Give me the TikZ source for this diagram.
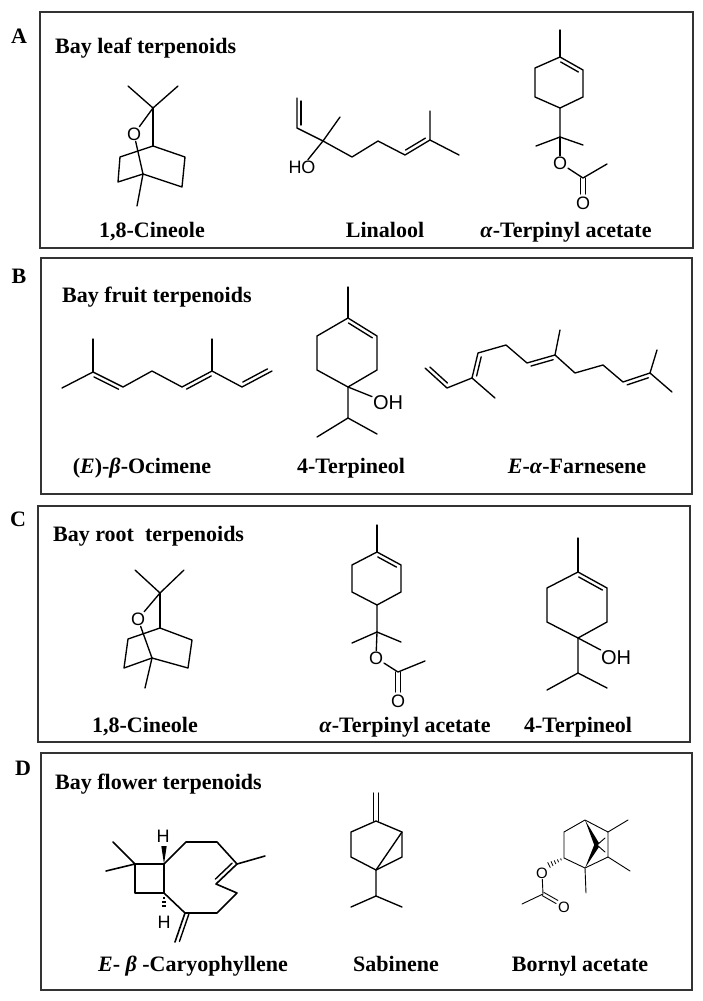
\documentclass[tikz,border=0pt]{standalone}
\usepackage{fontspec}
\setmainfont{Liberation Serif}
\newfontfamily\arialf{Liberation Sans}
\usetikzlibrary{calc}
\newcommand{\dbond}[4]{\draw[bond,shorten >=3pt,shorten <=3pt] ($(#1)!4pt!#3:(#2)$) -- ($(#2)!4pt!#4:(#1)$);}
\newcommand{\sbond}[2]{\draw[bond] ($(#1)!2.2pt!90:(#2)$) -- ($(#2)!2.2pt!-90:(#1)$); \draw[bond] ($(#1)!2.2pt!-90:(#2)$) -- ($(#2)!2.2pt!90:(#1)$);}
\tikzset{
  panel/.style={draw=black!80, line width=1.6pt},
  bond/.style={line width=1.35pt, line cap=round, line join=round},
  thinbond/.style={line width=0.9pt, line cap=round, line join=round},
  atom/.style={font=\arialf\fontsize{18}{18}\selectfont, inner sep=0.8pt},
  bigatom/.style={font=\arialf\fontsize{20}{20}\selectfont, inner sep=0.8pt},
  smallatom/.style={font=\arialf\fontsize{15}{15}\selectfont, inner sep=0.8pt},
  title/.style={font=\bfseries\fontsize{22}{24}\selectfont, anchor=base west, inner sep=0},
  lbl/.style={font=\bfseries\fontsize{22}{24}\selectfont, anchor=base, inner sep=0},
  plet/.style={font=\bfseries\fontsize{22}{24}\selectfont, inner sep=0},
}
\begin{document}
\begin{tikzpicture}[x=1pt,y=-1pt]
\fill[white] (0,0) rectangle (702,1001);
\useasboundingbox (0,0) rectangle (702,1001);

% ---------- panels ----------
\draw[panel] (40,12) rectangle (693,248);
\draw[panel] (41,258) rectangle (692,494);
\draw[panel] (38,506) rectangle (690,742);
\draw[panel] (41,753) rectangle (692,990);

\node[plet] (pA) at (19,36) {A};
\node[plet] (pB) at (19,276) {B};
\node[plet] (pC) at (18,519) {C};
\node[plet] (pD) at (23,768) {D};

\node[title] (tA) at (55,53) {Bay leaf terpenoids};
\node[title] (tB) at (62,302) {Bay fruit terpenoids};
\node[title] (tC) at (53,541) {Bay root\ \ terpenoids};
\node[title] (tD) at (55,789) {Bay flower terpenoids};

% ---------- labels ----------
\node[lbl] (lA1) at (152,237) {1,8-Cineole};
\node[lbl] (lA2) at (385,237) {Linalool};
\node[lbl] (lA3) at (566,237) {\textit{α}-Terpinyl acetate};
\node[lbl] (lB1) at (142,473) {(\textit{E})-\textit{β}-Ocimene};
\node[lbl] (lB2) at (351,473) {4-Terpineol};
\node[lbl] (lB3) at (577,473) {\textit{E}-\textit{α}-Farnesene};
\node[lbl] (lC1) at (145,732) {1,8-Cineole};
\node[lbl] (lC2) at (405,732) {\textit{α}-Terpinyl acetate};
\node[lbl] (lC3) at (578,732) {4-Terpineol};
\node[lbl] (lD1) at (193,971) {\textit{E}- \textit{β} -Caryophyllene};
\node[lbl] (lD2) at (396,971) {Sabinene};
\node[lbl] (lD3) at (580,971) {Bornyl acetate};

% ---------- A: 1,8-Cineole ----------
\coordinate (a1m1) at (128,86);
\coordinate (a1m2) at (178,86);
\coordinate (a1c8) at (153,108);
\node[atom] (a1o) at (134,134) {O};
\coordinate (a1c1) at (153,146);
\coordinate (a1l1) at (120,157);
\coordinate (a1l2) at (118,182);
\coordinate (a1c4) at (143,174);
\coordinate (a1r1) at (185,157);
\coordinate (a1r2) at (182,187);
\coordinate (a1m3) at (137,206);
\draw[bond] (a1m1) -- (a1c8) -- (a1m2);
\draw[bond] (a1c8) -- (a1o);
\draw[bond] (a1c8) -- (a1c1);
\draw[bond] (a1c1) -- (a1l1) -- (a1l2) -- (a1c4);
\draw[bond] (a1c1) -- (a1r1) -- (a1r2) -- (a1c4);
\draw[bond] (a1o) -- (a1c4) -- (a1m3);

% ---------- A: Linalool ----------
\coordinate (l1) at (297,98);
\coordinate (l2) at (297,128);
\coordinate (l3) at (323,141);
\coordinate (lme) at (340,117);
\node[atom] (lho) at (302,167) {HO};
\coordinate (l4) at (352,157);
\coordinate (l5) at (378,141);
\coordinate (l6) at (405,155);
\coordinate (l7) at (430,140);
\coordinate (lme2) at (430,111);
\coordinate (lme3) at (459,155);
\draw[bond] (l1) -- (l2) -- (l3) -- (lme);
\dbond{l1}{l2}{90}{-90}
\draw[bond] (l3) -- (lho);
\draw[bond] (l3) -- (l4) -- (l5) -- (l6) -- (l7) -- (lme2);
\draw[bond] (l7) -- (lme3);
\dbond{l6}{l7}{90}{-90}

% ---------- A: alpha-Terpinyl acetate ----------
\coordinate (t1m) at (560,30);
\coordinate (t1c1) at (560,57);
\coordinate (t1c2) at (583,70);
\coordinate (t1c3) at (583,97);
\coordinate (t1c4) at (560,108);
\coordinate (t1c5) at (535,97);
\coordinate (t1c6) at (535,68);
\coordinate (t1c8) at (560,137);
\coordinate (t1ma) at (536,146);
\coordinate (t1mb) at (583,145);
\node[atom] (t1o) at (560,163) {O};
\coordinate (t1cc) at (583,178);
\coordinate (t1mc) at (607,164);
\coordinate (t1ob) at (583,194);
\node[atom] (t1o2) at (583,203) {O};
\draw[bond] (t1m) -- (t1c1);
\draw[bond] (t1c1) -- (t1c2) -- (t1c3) -- (t1c4) -- (t1c5) -- (t1c6) -- cycle;
\dbond{t1c1}{t1c2}{-90}{90}
\draw[bond] (t1c4) -- (t1c8) -- (t1ma);
\draw[bond] (t1c8) -- (t1mb);
\draw[bond] (t1c8) -- (t1o);
\draw[bond] (t1o) -- (t1cc) -- (t1mc);
\sbond{t1cc}{t1ob}

% ---------- B: (E)-beta-Ocimene ----------
\coordinate (o1) at (62,388);
\coordinate (o2) at (93,372);
\coordinate (o2m) at (93,339);
\coordinate (o3) at (123,387);
\coordinate (o4) at (152,371);
\coordinate (o5) at (182,387);
\coordinate (o6) at (212,371);
\coordinate (o6m) at (212,339);
\coordinate (o7) at (242,387);
\coordinate (o8) at (272,371);
\draw[bond] (o1) -- (o2) -- (o3) -- (o4) -- (o5) -- (o6) -- (o7) -- (o8);
\draw[bond] (o2) -- (o2m);
\draw[bond] (o6) -- (o6m);
\dbond{o2}{o3}{-90}{90}
\dbond{o5}{o6}{-90}{90}
\dbond{o7}{o8}{90}{-90}

% ---------- B: 4-Terpineol ----------
\coordinate (p1m) at (348,287);
\coordinate (p1) at (348,318);
\coordinate (p2) at (377,336);
\coordinate (p3) at (377,370);
\coordinate (p4) at (348,387);
\coordinate (p5) at (317,370);
\coordinate (p6) at (317,336);
\node[bigatom] (poh) at (388,403) {OH};
\coordinate (p7) at (348,418);
\coordinate (p7a) at (317,437);
\coordinate (p7b) at (377,434);
\draw[bond] (p1m) -- (p1);
\draw[bond] (p1) -- (p2) -- (p3) -- (p4) -- (p5) -- (p6) -- cycle;
\dbond{p1}{p2}{-90}{90}
\draw[bond] (p4) -- (poh);
\draw[bond] (p4) -- (p7) -- (p7a);
\draw[bond] (p7) -- (p7b);

% ---------- B: E-alpha-Farnesene ----------
\coordinate (f1) at (425,368);
\coordinate (f2) at (447,388);
\coordinate (f3) at (472,378);
\coordinate (f3m) at (495,398);
\coordinate (f4) at (478,353);
\coordinate (f5) at (506,345);
\coordinate (f6) at (527,363);
\coordinate (f7) at (555,355);
\coordinate (f7m) at (560,330);
\coordinate (f8) at (575,373);
\coordinate (f9) at (603,365);
\coordinate (f10) at (623,382);
\coordinate (f11) at (650,373);
\coordinate (f11m) at (657,350);
\coordinate (f11n) at (672,392);
\draw[bond] (f1) -- (f2) -- (f3) -- (f4) -- (f5) -- (f6) -- (f7) -- (f8) -- (f9) -- (f10) -- (f11) -- (f11n);
\draw[bond] (f3) -- (f3m);
\draw[bond] (f7) -- (f7m);
\draw[bond] (f11) -- (f11m);
\dbond{f1}{f2}{90}{-90}
\dbond{f3}{f4}{-90}{90}
\dbond{f6}{f7}{-90}{90}
\dbond{f10}{f11}{-90}{90}

% ---------- C: 1,8-Cineole ----------
\coordinate (c1m1) at (135,570);
\coordinate (c1m2) at (184,570);
\coordinate (c1c8) at (160,593);
\node[atom] (c1o) at (138,619) {O};
\coordinate (c1c1) at (160,628);
\coordinate (c1r1) at (192,640);
\coordinate (c1r2) at (188,668);
\coordinate (c1c4) at (152,658);
\coordinate (c1l1) at (128,639);
\coordinate (c1l2) at (124,668);
\coordinate (c1m3) at (145,688);
\draw[bond] (c1m1) -- (c1c8) -- (c1m2);
\draw[bond] (c1c8) -- (c1o);
\draw[bond] (c1c8) -- (c1c1);
\draw[bond] (c1c1) -- (c1l1) -- (c1l2) -- (c1c4);
\draw[bond] (c1c1) -- (c1r1) -- (c1r2) -- (c1c4);
\draw[bond] (c1o) -- (c1c4) -- (c1m3);

% ---------- C: alpha-Terpinyl acetate ----------
\coordinate (t2m) at (377,525);
\coordinate (t2c1) at (377,552);
\coordinate (t2c2) at (401,565);
\coordinate (t2c3) at (401,592);
\coordinate (t2c4) at (377,605);
\coordinate (t2c5) at (352,592);
\coordinate (t2c6) at (352,565);
\coordinate (t2c8) at (377,632);
\coordinate (t2ma) at (352,643);
\coordinate (t2mb) at (401,642);
\node[atom] (t2o) at (376,658) {O};
\coordinate (t2cc) at (398,672);
\coordinate (t2mc) at (425,661);
\coordinate (t2ob) at (398,692);
\node[atom] (t2o2) at (398,701) {O};
\draw[bond] (t2m) -- (t2c1);
\draw[bond] (t2c1) -- (t2c2) -- (t2c3) -- (t2c4) -- (t2c5) -- (t2c6) -- cycle;
\dbond{t2c1}{t2c2}{-90}{90}
\draw[bond] (t2c4) -- (t2c8) -- (t2ma);
\draw[bond] (t2c8) -- (t2mb);
\draw[bond] (t2c8) -- (t2o);
\draw[bond] (t2o) -- (t2cc) -- (t2mc);
\sbond{t2cc}{t2ob}

% ---------- C: 4-Terpineol ----------
\coordinate (q1m) at (578,538);
\coordinate (q1) at (578,572);
\coordinate (q2) at (607,588);
\coordinate (q3) at (607,622);
\coordinate (q4) at (578,638);
\coordinate (q5) at (547,622);
\coordinate (q6) at (547,588);
\node[bigatom] (qoh) at (616,658) {OH};
\coordinate (q7) at (578,673);
\coordinate (q7a) at (547,690);
\coordinate (q7b) at (607,688);
\draw[bond] (q1m) -- (q1);
\draw[bond] (q1) -- (q2) -- (q3) -- (q4) -- (q5) -- (q6) -- cycle;
\dbond{q1}{q2}{-90}{90}
\draw[bond] (q4) -- (qoh);
\draw[bond] (q4) -- (q7) -- (q7a);
\draw[bond] (q7) -- (q7b);

% ---------- D: E-beta-Caryophyllene ----------
\coordinate (k1) at (135,864);
\coordinate (k1a) at (113,842);
\coordinate (k1b) at (106,871);
\coordinate (k2) at (164,864);
\coordinate (k3) at (164,893);
\coordinate (k4) at (135,893);
\coordinate (k5) at (186,842);
\coordinate (k6) at (217,842);
\coordinate (k7) at (237,864);
\coordinate (k7m) at (265,856);
\coordinate (k8) at (216,884);
\coordinate (k9) at (237,893);
\coordinate (k10) at (217,913);
\coordinate (k11) at (185,913);
\coordinate (k11m) at (175,942);
\node[atom] (kh1) at (163,836) {H};
\node[atom] (kh2) at (164,922) {H};
\draw[bond,line width=1.6pt] (k1) -- (k2) -- (k3) -- (k4) -- cycle;
\draw[bond,line width=1.6pt] (k1a) -- (k1) -- (k1b);
\draw[bond,line width=1.6pt] (k2) -- (k5) -- (k6) -- (k7) -- (k8) -- (k9) -- (k10) -- (k11) -- (k3);
\draw[bond,line width=1.6pt] (k7) -- (k7m);
\draw[bond,line width=1.6pt] (k11) -- (k11m);
\draw[bond,line width=1.4pt,shorten >=3pt,shorten <=3pt] ($(k7)!4pt!-90:(k8)$) -- ($(k8)!4pt!90:(k7)$);
\draw[bond,line width=1.4pt,shorten >=2pt] ($(k11)!4pt!90:(k11m)$) -- ($(k11m)!4pt!-90:(k11)$);
\fill (k2) -- (161.3,846) -- (166.7,846) -- cycle;
\draw[line width=1.1pt] (163,898) -- (165,898);
\draw[line width=1.1pt] (162.3,902) -- (165.7,902);
\draw[line width=1.1pt] (161.6,906) -- (166.4,906);

% ---------- D: Sabinene ----------
\coordinate (s0) at (376,793);
\coordinate (s1) at (376,821);
\coordinate (s2) at (402,832);
\coordinate (s3) at (402,857);
\coordinate (s4) at (376,870);
\coordinate (s5) at (351,857);
\coordinate (s6) at (351,832);
\coordinate (s7) at (376,896);
\coordinate (s7a) at (351,907);
\coordinate (s7b) at (402,907);
\sbond{s0}{s1}
\draw[bond] (s1) -- (s2) -- (s3) -- (s4) -- (s5) -- (s6) -- (s1);
\draw[bond] (s2) -- (s4);
\draw[bond] (s4) -- (s7) -- (s7a);
\draw[bond] (s7) -- (s7b);

% ---------- D: Bornyl acetate ----------
\coordinate (b1) at (585,820);
\coordinate (b2) at (564,832);
\coordinate (b3) at (564,858);
\coordinate (b4) at (585,868);
\coordinate (b5) at (608,857);
\coordinate (b6) at (608,832);
\coordinate (b7) at (597,845);
\coordinate (b7a) at (605,838);
\coordinate (b7b) at (605,852);
\coordinate (b6m) at (628,820);
\coordinate (b5m) at (630,871);
\coordinate (b4m) at (586,893);
\coordinate (bh) at (549,865);
\node[smallatom] (bo) at (542,873) {O};
\coordinate (bc) at (543,894);
\coordinate (bcm) at (522,904);
\coordinate (bob) at (557,902);
\node[smallatom] (bo2) at (564,907) {O};
\draw[thinbond] (b1) -- (b2) -- (b3) -- (b4) -- (b5) -- (b6) -- cycle;
\fill (b1) -- (594.8,846.6) -- (599.2,843.4) -- cycle;
\fill (b4) -- (594.8,843.4) -- (599.2,846.6) -- cycle;
\draw[thinbond] (b7) -- (b7a);
\draw[thinbond] (b7) -- (b7b);
\draw[thinbond] (b6) -- (b6m);
\draw[thinbond] (b5) -- (b5m);
\draw[thinbond] (b4) -- (b4m);
\draw[line width=0.8pt] (561.4,860.3) -- (560.6,858.5);
\draw[line width=0.8pt] (558.6,862.2) -- (557.4,859.4);
\draw[line width=0.8pt] (555.8,864.0) -- (554.2,860.4);
\draw[line width=0.8pt] (553.0,865.9) -- (551.0,861.3);
\draw[line width=0.8pt] (550.3,867.7) -- (547.7,862.3);
\draw[thinbond] (bo) -- (bc) -- (bcm);
\draw[thinbond] ($(bc)!1.8pt!90:(bob)$) -- ($(bob)!1.8pt!-90:(bc)$);
\draw[thinbond] ($(bc)!1.8pt!-90:(bob)$) -- ($(bob)!1.8pt!90:(bc)$);
\end{tikzpicture}
\end{document}
